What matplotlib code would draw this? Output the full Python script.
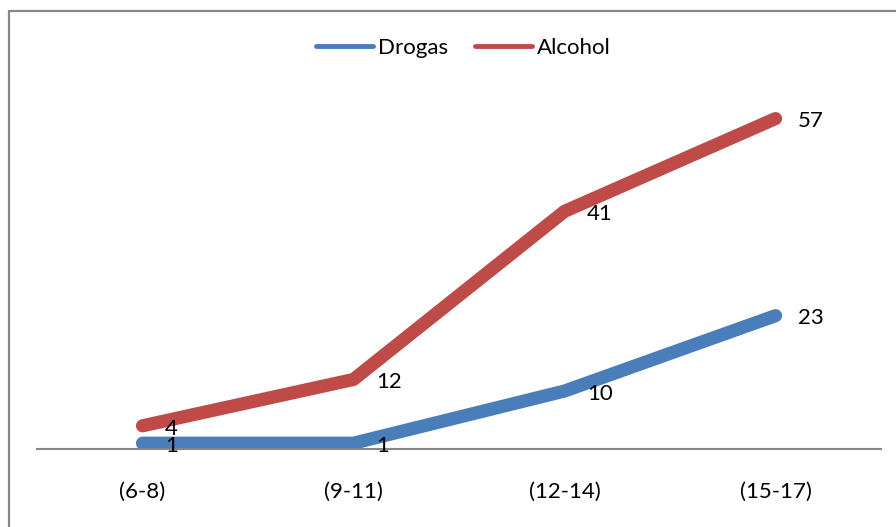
import matplotlib.pyplot as plt
from matplotlib.patches import Rectangle

plt.rcParams['font.family'] = ['Lato', 'DejaVu Sans']

categorias = ['(6-8)', '(9-11)', '(12-14)', '(15-17)']
drogas = [1, 1, 10, 23]
alcohol = [4, 12, 41, 57]

fig = plt.figure(figsize=(8.96, 5.27), dpi=100)
ax = fig.add_axes([0.0413, 0.148, 0.942, 0.660])

# marco gris del grafico (se sale por la derecha y abajo)
fig.patches.append(Rectangle((9 / 896, -0.1), 1.0, 1 - 11 / 527 + 0.1,
                             transform=fig.transFigure, fill=False,
                             edgecolor='#868686', linewidth=1.6))

x = range(len(categorias))
l1, = ax.plot(x, drogas, color='#4A7EBB', lw=9.5, solid_capstyle='round',
              solid_joinstyle='round', clip_on=False, label='Drogas')
l2, = ax.plot(x, alcohol, color='#BE4B48', lw=9.5, solid_capstyle='round',
              solid_joinstyle='round', clip_on=False, label='Alcohol')

for serie in (drogas, alcohol):
    for i, v in enumerate(serie):
        ax.annotate(str(v), (i, v), xytext=(16, -2), textcoords='offset points',
                    ha='left', va='center', fontsize=16)

ax.set_xlim(-0.5, 3.5)
ax.set_ylim(0, 60)
ax.set_xticks(list(x))
ax.set_xticklabels(categorias, fontsize=16)
ax.tick_params(axis='x', length=0, pad=24)
ax.set_yticks([])
for s in ['top', 'right', 'left']:
    ax.spines[s].set_visible(False)
ax.spines['bottom'].set_color('#868686')
ax.spines['bottom'].set_linewidth(1.5)

leg = fig.legend(handles=[l1, l2], loc='center', bbox_to_anchor=(463 / 896, 1 - 48 / 527),
                 ncol=2, frameon=False, fontsize=16, handlelength=2.6,
                 handletextpad=0.2, columnspacing=1.2)
for h in leg.get_lines():
    h.set_linewidth(3.5)

fig.savefig('out.png', dpi=100)
